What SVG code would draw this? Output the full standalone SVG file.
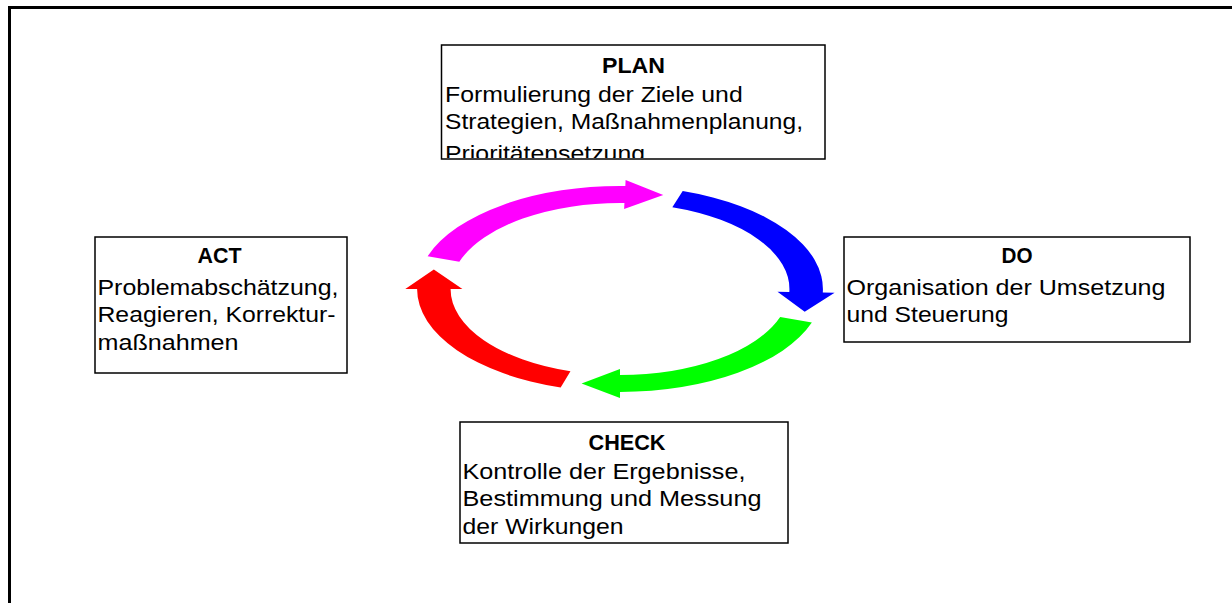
<svg xmlns="http://www.w3.org/2000/svg" width="1232" height="603" viewBox="0 0 1232 603">
<style>
.box{fill:#fff;stroke:#000;stroke-width:1.5}
.t{font-family:"Liberation Sans",Arial,sans-serif;font-size:22px;fill:#000}
.b{font-family:"Liberation Sans",Arial,sans-serif;font-size:22px;font-weight:bold;fill:#000;text-anchor:middle}
</style>
<defs>
<clipPath id="clipPlan"><rect x="442" y="46" width="382" height="112"/></clipPath>
</defs>
<rect width="1232" height="603" fill="#fff"/>
<path d="M9.5 603 V7.5 H1232" fill="none" stroke="#000" stroke-width="3"/>
<g id="cycle" transform="translate(620,289) scale(1.97,1)">
<path id="arrow-plan" fill="#ff00ff" d="M-97.68,-32.68 A103,103 0 0 1 2.70,-102.96 L2.85,-108.96 L21.96,-93.96 L2.09,-79.97 L2.25,-85.97 A86,86 0 0 0 -81.55,-27.29 Z"/>
<path id="arrow-do" fill="#0000ff" d="M31.83,-97.96 A103,103 0 0 1 102.94,3.59 L108.93,3.80 L93.76,22.79 L79.95,2.79 L85.95,3.00 A86,86 0 0 0 26.57,-81.79 Z"/>
<path id="arrow-check" fill="#00ff00" d="M97.39,33.53 A103,103 0 0 1 0,103 L0,109 L-19.5,94.5 L0,80 L0,86 A86,86 0 0 0 81.31,28.00 Z"/>
<path id="arrow-act" fill="#ff0000" d="M-30.12,98.50 A103,103 0 0 1 -103,0 L-109,0 L-94.5,-19.5 L-80,0 L-86,0 A86,86 0 0 0 -25.15,82.24 Z"/>
</g>
<g id="plan">
<rect class="box" x="441.5" y="45" width="383.5" height="114"/>
<g clip-path="url(#clipPlan)">
<text class="b" x="633.5" y="72.5" textLength="63" lengthAdjust="spacingAndGlyphs">PLAN</text>
<text class="t" x="445" y="101.5" textLength="297.7" lengthAdjust="spacingAndGlyphs">Formulierung der Ziele und</text>
<text class="t" x="445" y="129" textLength="358" lengthAdjust="spacingAndGlyphs">Strategien, Maßnahmenplanung,</text>
<text class="t" x="445" y="160.5" textLength="200" lengthAdjust="spacingAndGlyphs">Prioritätensetzung</text>
</g>
</g>
<g id="do">
<rect class="box" x="844" y="237" width="346" height="105"/>
<text class="b" x="1017" y="262.5" textLength="31" lengthAdjust="spacingAndGlyphs">DO</text>
<text class="t" x="846.5" y="294.5" textLength="319" lengthAdjust="spacingAndGlyphs">Organisation der Umsetzung</text>
<text class="t" x="846.5" y="322" textLength="162" lengthAdjust="spacingAndGlyphs">und Steuerung</text>
</g>
<g id="check">
<rect class="box" x="460" y="422" width="328" height="121"/>
<text class="b" x="627" y="450" textLength="77" lengthAdjust="spacingAndGlyphs">CHECK</text>
<text class="t" x="462.5" y="478.5" textLength="283" lengthAdjust="spacingAndGlyphs">Kontrolle der Ergebnisse,</text>
<text class="t" x="462.5" y="506" textLength="299" lengthAdjust="spacingAndGlyphs">Bestimmung und Messung</text>
<text class="t" x="462.5" y="533.5" textLength="161" lengthAdjust="spacingAndGlyphs">der Wirkungen</text>
</g>
<g id="act">
<rect class="box" x="95" y="237" width="252" height="136"/>
<text class="b" x="219.5" y="262.5" textLength="44" lengthAdjust="spacingAndGlyphs">ACT</text>
<text class="t" x="97.5" y="294.5" textLength="241" lengthAdjust="spacingAndGlyphs">Problemabschätzung,</text>
<text class="t" x="97.5" y="322" textLength="238" lengthAdjust="spacingAndGlyphs">Reagieren, Korrektur-</text>
<text class="t" x="97.5" y="349.5" textLength="141" lengthAdjust="spacingAndGlyphs">maßnahmen</text>
</g>
</svg>
